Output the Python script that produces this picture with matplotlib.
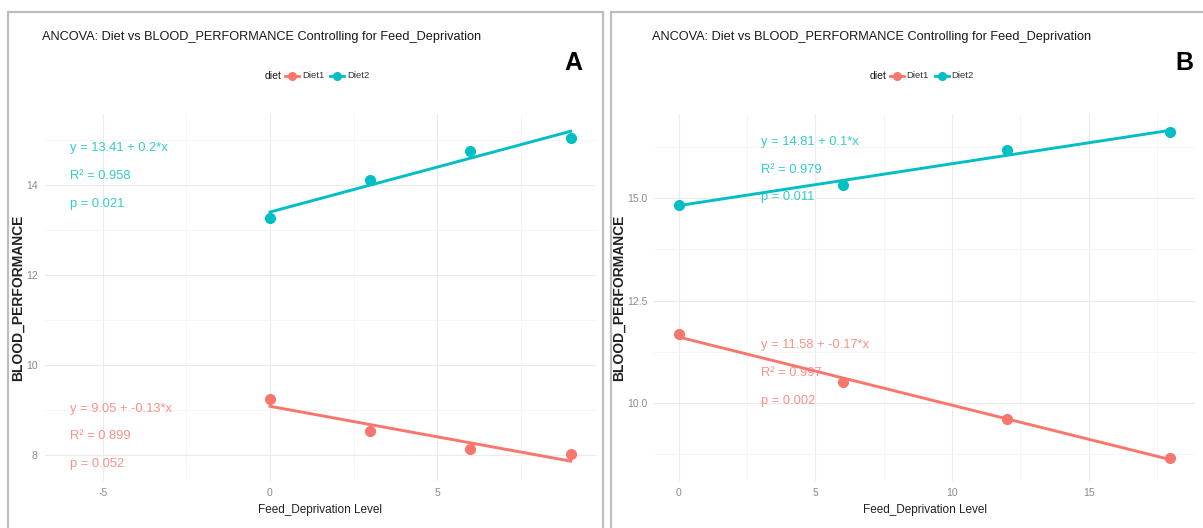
import numpy as np
import matplotlib
matplotlib.use('Agg')
import matplotlib.pyplot as plt
from matplotlib.lines import Line2D
from matplotlib.patches import Rectangle

# Values
diets = ['Diet1', 'Diet2']
colors = ['#F8766D', '#00BFC4']

a_x = [0, 3, 6, 9]
a_diet1 = [9.24, 8.53, 8.13, 8.02]
a_diet2 = [13.27, 14.12, 14.76, 15.05]
a_labels = [['y = 9.05 + -0.13*x', 'R\u00b2 = 0.899', 'p = 0.052'],
            ['y = 13.41 + 0.2*x', 'R\u00b2 = 0.958', 'p = 0.021']]

b_x = [0, 6, 12, 18]
b_diet1 = [11.68, 10.51, 9.61, 8.66]
b_diet2 = [14.84, 15.33, 16.17, 16.6]
b_labels = [['y = 11.58 + -0.17*x', 'R\u00b2 = 0.997', 'p = 0.002'],
            ['y = 14.81 + 0.1*x', 'R\u00b2 = 0.979', 'p = 0.011']]

SANS = ['Liberation Sans', 'DejaVu Sans']
W, H = 1203, 528

fig = plt.figure(figsize=(W / 100, H / 100), dpi=100)
fig.patch.set_facecolor('white')


def px(x, y):
    # pixel position (from top-left) to figure fraction
    return x / W, 1 - y / H


# screenshot frames
for x0, x1 in [(8, 603), (611, 1210)]:
    fig.add_artist(Rectangle(px(x0, 540), (x1 - x0) / W, (540 - 12) / H,
                             transform=fig.transFigure, fill=False,
                             edgecolor='#BDBDBD', lw=1.6))


def panel(left, right, xlim, ylim, xticks, yticks, xminor, yminor, ytickfmt,
          xs, series, labels, label_pos, letter, letter_x):
    top, bottom = 114, 481
    ax = fig.add_axes([left / W, 1 - bottom / H, (right - left) / W, (bottom - top) / H])
    ax.set_xlim(xlim)
    ax.set_ylim(ylim)
    ax.set_xticks(xticks)
    ax.set_yticks(yticks)
    ax.set_xticks(xminor, minor=True)
    ax.set_yticks(yminor, minor=True)
    ax.set_xticklabels([str(t) for t in xticks], fontfamily=SANS, fontsize=7.5, color='#8A8A8A')
    ax.set_yticklabels([ytickfmt % t for t in yticks], fontfamily=SANS, fontsize=7.5, color='#8A8A8A')
    ax.tick_params(which='both', length=0, pad=5)
    ax.grid(which='major', color='#EBEBEB', lw=0.8)
    ax.grid(which='minor', color='#F4F4F4', lw=0.6)
    ax.set_axisbelow(True)
    for s in ax.spines.values():
        s.set_visible(False)

    for ys, c, lab, (lx, ly) in zip(series, colors, labels, label_pos):
        slope, icpt = np.polyfit(xs, ys, 1)
        xx = np.array([min(xs), max(xs)])
        ax.plot(xx, icpt + slope * xx, color=c, lw=2.1, zorder=2)
        ax.plot(xs, ys, 'o', color=c, ms=7, zorder=3)
        for i, t in enumerate(lab):
            ax.annotate(t, (lx, ly), xytext=(0, -20 * i), textcoords='offset points',
                        ha='left', va='center', color=c, alpha=0.8,
                        fontfamily=SANS, fontsize=9.3)

    ax.set_xlabel('Feed_Deprivation Level', fontfamily=SANS, fontsize=8.5,
                  color='#222222', labelpad=4)
    ax.set_ylabel('BLOOD_PERFORMANCE', fontfamily=SANS, fontsize=10, fontweight='bold',
                  color='#222222', labelpad=1)

    # title and legend
    fig.text(*px(left - 2, 37), 'ANCOVA: Diet vs BLOOD_PERFORMANCE Controlling for Feed_Deprivation',
             fontfamily=SANS, fontsize=9.2, va='center', ha='left', color='#1A1A1A')
    cx = (left + right) / 2
    ly = 76
    fig.text(*px(cx - 55, ly), 'diet', fontfamily=SANS, fontsize=7.5, va='center',
             ha='left', color='#1A1A1A')
    for k, (d, c) in enumerate(zip(diets, colors)):
        sx = cx - 28 + k * 45
        fig.add_artist(Line2D([(sx - 7) / W, (sx + 7) / W], [1 - ly / H] * 2,
                              transform=fig.transFigure, color=c, lw=2))
        fig.add_artist(Line2D([sx / W], [1 - ly / H], transform=fig.transFigure,
                              marker='o', color=c, ms=5.5))
        fig.text(*px(sx + 10, ly), d, fontfamily=SANS, fontsize=6.8, va='center',
                 ha='left', color='#333333')

    fig.text(*px(letter_x, 63), letter, fontfamily=SANS, fontweight='bold',
             fontsize=18, va='center', ha='center', color='black')
    return ax


panel(44.5, 595.7, (-6.75, 9.75), (7.43, 15.58), [-5, 0, 5], [8, 10, 12, 14],
      [-2.5, 2.5, 7.5], [9, 11, 13, 15], '%d',
      a_x, [a_diet1, a_diet2], a_labels, [(-6, 9.04), (-6, 14.82)], 'A', 573)

panel(654.4, 1195, (-0.9, 18.9), (8.1, 17.05), [0, 5, 10, 15], [10.0, 12.5, 15.0],
      [2.5, 7.5, 12.5, 17.5], [8.75, 11.25, 13.75, 16.25], '%.1f',
      b_x, [b_diet1, b_diet2], b_labels, [(3, 11.41), (3, 16.37)], 'B', 1184)

fig.savefig('out.png', dpi=100)
